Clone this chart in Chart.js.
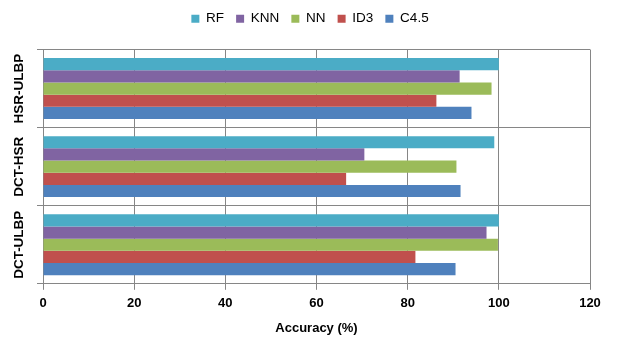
<!DOCTYPE html>
<html>
<head>
<meta charset="utf-8">
<title>Accuracy by feature set</title>
<script src="https://cdn.jsdelivr.net/npm/chart.js@4/dist/chart.umd.min.js"></script>
<style>
  html, body { margin: 0; padding: 0; background: #fff; }
  #wrap { width: 620px; height: 351px; position: relative; }
</style>
</head>
<body>
<div id="wrap"><canvas id="accChart"></canvas></div>
<script>
// DATA
const categories = ["HSR-ULBP", "DCT-HSR", "DCT-ULBP"];
const rfValues = [100, 99.0, 100];
const knnValues = [91.4, 70.5, 97.3];
const nnValues = [98.4, 90.7, 99.8];
const id3Values = [86.3, 66.5, 81.7];
const c45Values = [94.0, 91.6, 90.5];
const xTicks = [0, 20, 40, 60, 80, 100, 120];

const FONT = "'Liberation Sans', Arial, sans-serif";
const GRID = "#868686";

function series(label, data, color) {
  return {
    label: label,
    data: data,
    backgroundColor: color,
    borderWidth: 0,
    barPercentage: 1,
    categoryPercentage: 0.78
  };
}

// rotated category labels on the left, like the original
const rotatedLabels = {
  id: "rotatedLabels",
  afterInit(chart) {
    // leave a bit more room under the legend
    const legend = chart.legend;
    if (legend) {
      const fit = legend.fit;
      legend.fit = function () {
        fit.call(this);
        this.height += 14;
      };
    }
  },
  afterDraw(chart) {
    const ctx = chart.ctx;
    const yScale = chart.scales.y;
    ctx.save();
    ctx.font = "bold 13.5px " + FONT;
    ctx.fillStyle = "#000";
    ctx.textAlign = "center";
    ctx.textBaseline = "middle";
    categories.forEach((cat, i) => {
      const y = yScale.getPixelForTick(i);
      ctx.save();
      ctx.translate(19, y);
      ctx.rotate(-Math.PI / 2);
      ctx.fillText(cat, 0, 0);
      ctx.restore();
    });
    ctx.restore();
  }
};

new Chart(document.getElementById("accChart"), {
  type: "bar",
  data: {
    labels: categories,
    datasets: [
      series("RF", rfValues, "#4BACC6"),
      series("KNN", knnValues, "#8064A2"),
      series("NN", nnValues, "#9BBB59"),
      series("ID3", id3Values, "#C0504D"),
      series("C4.5", c45Values, "#4F81BD")
    ]
  },
  options: {
    indexAxis: "y",
    responsive: true,
    maintainAspectRatio: false,
    animation: false,
    layout: { padding: { left: 0, right: 0, top: 0, bottom: 15 } },
    plugins: {
      tooltip: { enabled: false },
      legend: {
        position: "top",
        labels: {
          boxWidth: 8,
          boxHeight: 8,
          padding: 12,
          color: "#000",
          font: { family: FONT, size: 13.5 }
        }
      }
    },
    scales: {
      x: {
        min: 0,
        max: 120,
        afterBuildTicks: (scale) => { scale.ticks = xTicks.map(v => ({ value: v })); },
        afterFit: (scale) => { scale.paddingRight = 30; },
        ticks: {
          color: "#000",
          padding: 6,
          font: { family: FONT, size: 13, weight: "bold" }
        },
        grid: { color: GRID, tickLength: 6, lineWidth: 1 },
        border: { color: GRID },
        title: {
          display: true,
          text: "Accuracy (%)",
          color: "#000",
          padding: { top: 3, bottom: 0 },
          font: { family: FONT, size: 13, weight: "bold" }
        }
      },
      y: {
        afterFit: (scale) => { scale.width = 43; },
        ticks: { display: false },
        grid: { color: GRID, offset: true, tickLength: 6, lineWidth: 1 },
        border: { color: GRID }
      }
    }
  },
  plugins: [rotatedLabels]
});
</script>
</body>
</html>
